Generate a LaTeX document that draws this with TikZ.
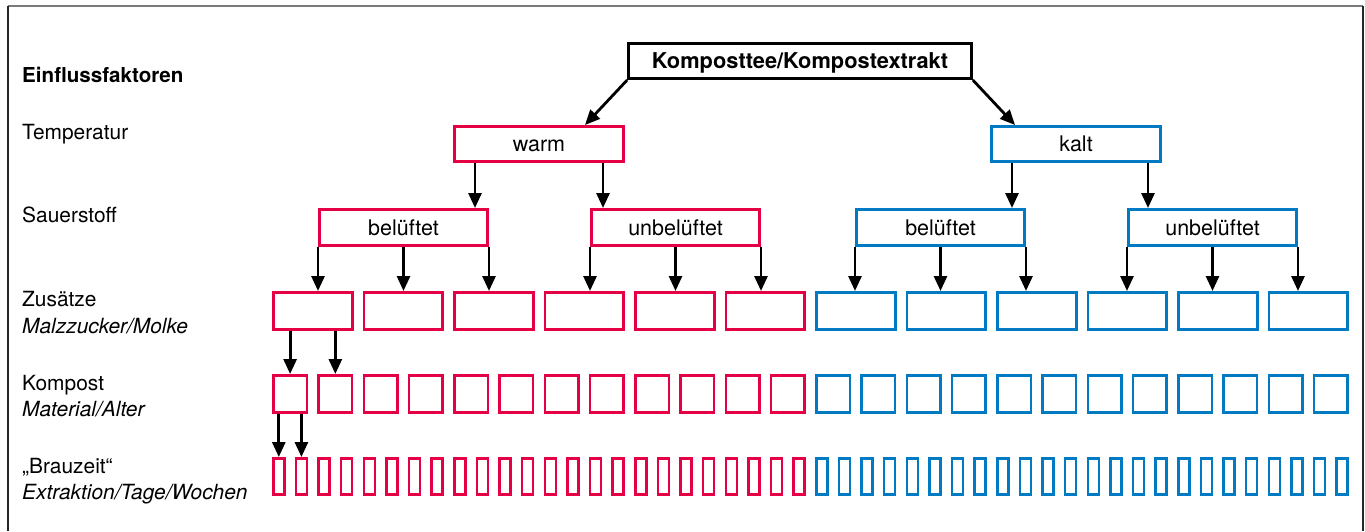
\documentclass[tikz,border=0pt]{standalone}
\usepackage{fontspec}
\setmainfont{TeX Gyre Heros}
\usetikzlibrary{arrows.meta,calc}
\definecolor{cred}{HTML}{E50046}
\definecolor{cblue}{HTML}{007AC2}
\definecolor{frameg}{HTML}{7A7A7A}
\begin{document}
\begin{tikzpicture}[x=1pt,y=-1pt,
  box/.style={draw,line width=2.6pt,inner sep=0pt,text height=15pt,text depth=0pt,
    font=\fontsize{21.5}{24}\selectfont},
  rbox/.style={box,draw=cred},
  bbox/.style={box,draw=cblue},
  arr/.style={line width=2.8pt,-{Triangle[length=15pt,width=13pt]}},
  lbl/.style={anchor=base west,inner sep=0pt,font=\fontsize{20.9}{24}\selectfont},
  ilbl/.style={lbl,font=\fontsize{20.9}{24}\selectfont\itshape}]
\useasboundingbox (0,0) rectangle (1365,531);
% frame
\draw[line width=1.5pt,frameg] (8,6) -- (1363,6);
\draw[line width=1.5pt,black!85] (8,6) -- (8,531);
\draw[line width=1.5pt,black!85] (1363,6) -- (1363,531);

% left labels
\node[lbl,font=\fontsize{20.6}{24}\selectfont\bfseries] (l0) at (22,82) {Einflussfaktoren};
\node[lbl] (l1) at (22,139) {Temperatur};
\node[lbl] (l2) at (22,222) {Sauerstoff};
\node[lbl] (l3) at (22,306) {Zusätze};
\node[ilbl] (l3b) at (22,333) {Malzzucker/Molke};
\node[lbl] (l4) at (22,390) {Kompost};
\node[ilbl] (l4b) at (22,416) {Material/Alter};
\node[lbl] (l5) at (22,473) {„Brauzeit“};
\node[ilbl] (l5b) at (22,499) {Extraktion/Tage/Wochen};

% top box
\node[box,draw=black,minimum width=343pt,minimum height=35.4pt,
  font=\fontsize{21.8}{24}\selectfont\bfseries] (top) at (800,61) {Komposttee/Kompostextrakt};

% temperature
\node[rbox,minimum width=169.4pt,minimum height=35.4pt] (warm) at (539,144) {warm};
\node[bbox,minimum width=169.4pt,minimum height=35.4pt] (kalt) at (1076,144) {kalt};

% oxygen
\node[rbox,minimum width=168.4pt,minimum height=36.4pt] (s1) at (403.5,227.5) {belüftet};
\node[rbox,minimum width=168.4pt,minimum height=36.4pt] (s2) at (675.5,227.5) {unbelüftet};
\node[bbox,minimum width=168.4pt,minimum height=36.4pt] (s3) at (940.5,227.5) {belüftet};
\node[bbox,minimum width=168.4pt,minimum height=36.4pt] (s4) at (1212.5,227.5) {unbelüftet};

% additives row
\foreach \i in {0,...,11}{
  \ifnum\i<6 \def\col{cred}\else\def\col{cblue}\fi
  \node[box,draw=\col,minimum width=78.9pt,minimum height=37.4pt] (z\i) at ({312.75+90.5*\i},311) {};
}
% compost row
\foreach \i in {0,...,23}{
  \ifnum\i<12 \def\col{cred}\else\def\col{cblue}\fi
  \node[box,draw=\col,minimum width=33.6pt,minimum height=37.4pt] (k\i) at ({290.1+45.25*\i},394) {};
}
% brewing time row
\foreach \i in {0,...,47}{
  \ifnum\i<24 \def\col{cred}\else\def\col{cblue}\fi
  \node[box,draw=\col,minimum width=11pt,minimum height=36.4pt] (b\i) at ({278.8+22.625*\i},476.5) {};
}

% arrows from top
\coordinate (t1) at ($(warm.north)+(46,0)$);
\coordinate (t2) at ($(kalt.north)+(-61,0)$);
\draw[arr] (top.south west) -- (t1);
\draw[arr] (top.south east) -- (t2);

% arrows from temperature
\coordinate (w1) at ($(warm.south)+(-64,0)$);
\coordinate (w2) at ($(warm.south)+(64,0)$);
\coordinate (c1) at ($(kalt.south)+(-64,0)$);
\coordinate (c2) at ($(kalt.south)+(72,0)$);
\draw[arr] (w1) -- (w1 |- s1.north);
\draw[arr] (w2) -- (w2 |- s2.north);
\draw[arr] (c1) -- (c1 |- s3.north);
\draw[arr] (c2) -- (c2 |- s4.north);

% arrows from oxygen
\draw[arr] (s1.south west) -- (s1.south west |- z0.north);
\draw[arr] (s1.south) -- (s1.south |- z1.north);
\draw[arr] (s1.south east) -- (s1.south east |- z2.north);
\draw[arr] (s2.south west) -- (s2.south west |- z3.north);
\draw[arr] (s2.south) -- (s2.south |- z4.north);
\draw[arr] (s2.south east) -- (s2.south east |- z5.north);
\draw[arr] (s3.south west) -- (s3.south west |- z6.north);
\draw[arr] (s3.south) -- (s3.south |- z7.north);
\draw[arr] (s3.south east) -- (s3.south east |- z8.north);
\draw[arr] (s4.south west) -- (s4.south west |- z9.north);
\draw[arr] (s4.south) -- (s4.south |- z10.north);
\draw[arr] (s4.south east) -- (s4.south east |- z11.north);

% arrows from first additive box
\draw[arr] (k0.north |- z0.south) -- (k0.north);
\draw[arr] (k1.north |- z0.south) -- (k1.north);
% arrows from first compost box
\draw[arr] (b0.north |- k0.south) -- (b0.north);
\draw[arr] (b1.north |- k0.south) -- (b1.north);
\end{tikzpicture}
\end{document}
